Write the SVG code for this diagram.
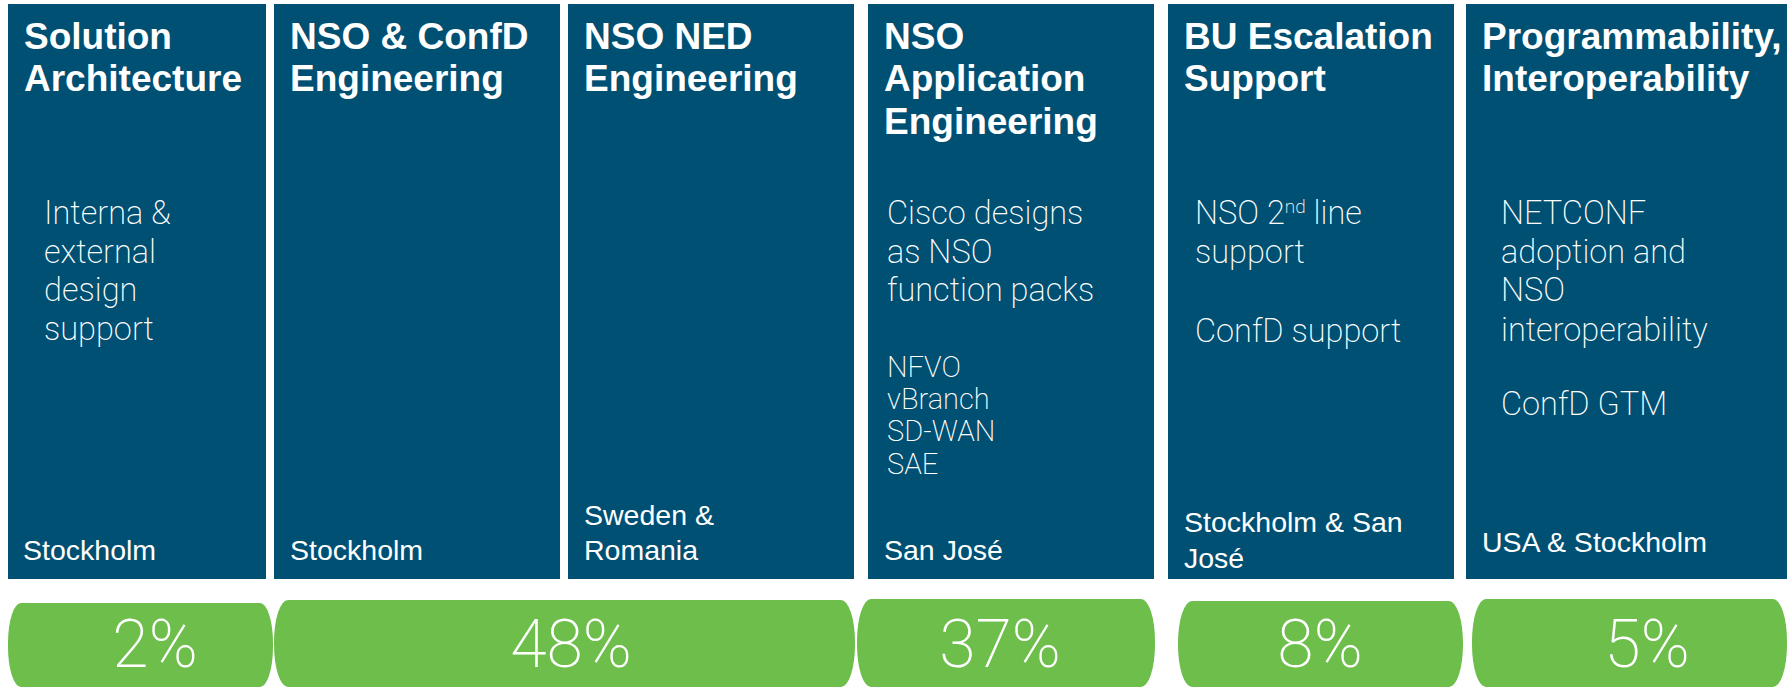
<svg xmlns="http://www.w3.org/2000/svg" width="1789" height="687" viewBox="0 0 1789 687">
<style>
.box{fill:#005073}
.pill{fill:#6DBE4B}
.t{font-family:"Liberation Sans",Arial,sans-serif;font-weight:bold;font-size:37px;fill:#fff}
.b{font-family:Roboto,"Liberation Sans",sans-serif;font-weight:200;font-size:32.5px;fill:#fff}
.s{font-family:Roboto,"Liberation Sans",sans-serif;font-weight:200;font-size:29px;fill:#fff}
.l{font-family:"Liberation Sans",Arial,sans-serif;font-size:28.5px;fill:#fff}
.p{font-family:Roboto,"Liberation Sans",sans-serif;font-weight:200;font-size:66px;fill:#fff;text-anchor:middle}
</style>
<rect width="1789" height="687" fill="#fff"/>
<g id="col-solution-architecture">
<rect class="box" x="8" y="4" width="258" height="575"/>
<text class="t" x="24" y="49">Solution</text>
<text class="t" x="24" y="91">Architecture</text>
<text class="b" x="44" y="224">Interna &amp;</text>
<text class="b" x="44" y="263">external</text>
<text class="b" x="44" y="301">design</text>
<text class="b" x="44" y="340">support</text>
<text class="l" x="23" y="560">Stockholm</text>
</g>
<g id="col-nso-confd">
<rect class="box" x="274" y="4" width="286" height="575"/>
<text class="t" x="290" y="49">NSO &amp; ConfD</text>
<text class="t" x="290" y="91">Engineering</text>
<text class="l" x="290" y="560">Stockholm</text>
</g>
<g id="col-nso-ned">
<rect class="box" x="568" y="4" width="286" height="575"/>
<text class="t" x="584" y="49">NSO NED</text>
<text class="t" x="584" y="91">Engineering</text>
<text class="l" x="584" y="525">Sweden &amp;</text>
<text class="l" x="584" y="560">Romania</text>
</g>
<g id="col-nso-app">
<rect class="box" x="868" y="4" width="286" height="575"/>
<text class="t" x="884" y="49">NSO</text>
<text class="t" x="884" y="91">Application</text>
<text class="t" x="884" y="134">Engineering</text>
<text class="b" x="887" y="224">Cisco designs</text>
<text class="b" x="887" y="263">as NSO</text>
<text class="b" x="887" y="301">function packs</text>
<text class="s" x="887" y="377">NFVO</text>
<text class="s" x="887" y="409">vBranch</text>
<text class="s" x="887" y="441">SD-WAN</text>
<text class="s" x="887" y="474">SAE</text>
<text class="l" x="884" y="560">San José</text>
</g>
<g id="col-bu-escalation">
<rect class="box" x="1168" y="4" width="286" height="575"/>
<text class="t" x="1184" y="49">BU Escalation</text>
<text class="t" x="1184" y="91">Support</text>
<text class="b" x="1195" y="224">NSO 2<tspan font-size="19" dy="-11">nd</tspan><tspan dy="11"> line</tspan></text>
<text class="b" x="1195" y="263">support</text>
<text class="b" x="1195" y="342">ConfD support</text>
<text class="l" x="1184" y="532">Stockholm &amp; San</text>
<text class="l" x="1184" y="568">José</text>
</g>
<g id="col-programmability">
<rect class="box" x="1466" y="4" width="321" height="575"/>
<text class="t" x="1482" y="49">Programmability,</text>
<text class="t" x="1482" y="91">Interoperability</text>
<text class="b" x="1501" y="224">NETCONF</text>
<text class="b" x="1501" y="263">adoption and</text>
<text class="b" x="1501" y="301">NSO</text>
<text class="b" x="1501" y="341">interoperability</text>
<text class="b" x="1501" y="415">ConfD GTM</text>
<text class="l" x="1482" y="552">USA &amp; Stockholm</text>
</g>
<g id="pill-2">
<rect class="pill" x="8" y="603" width="265" height="84" rx="13" ry="40"/>
<text class="p" x="155" y="667">2%</text>
</g>
<g id="pill-48">
<rect class="pill" x="274" y="600" width="581" height="87" rx="14" ry="42"/>
<text class="p" x="571" y="667">48%</text>
</g>
<g id="pill-37">
<rect class="pill" x="857" y="599" width="298" height="88" rx="14" ry="42"/>
<text class="p" x="1000" y="667">37%</text>
</g>
<g id="pill-8">
<rect class="pill" x="1178" y="601" width="285" height="86" rx="14" ry="42"/>
<text class="p" x="1320" y="667">8%</text>
</g>
<g id="pill-5">
<rect class="pill" x="1472" y="599" width="315" height="88" rx="14" ry="42"/>
<text class="p" x="1647" y="667">5%</text>
</g>
</svg>
